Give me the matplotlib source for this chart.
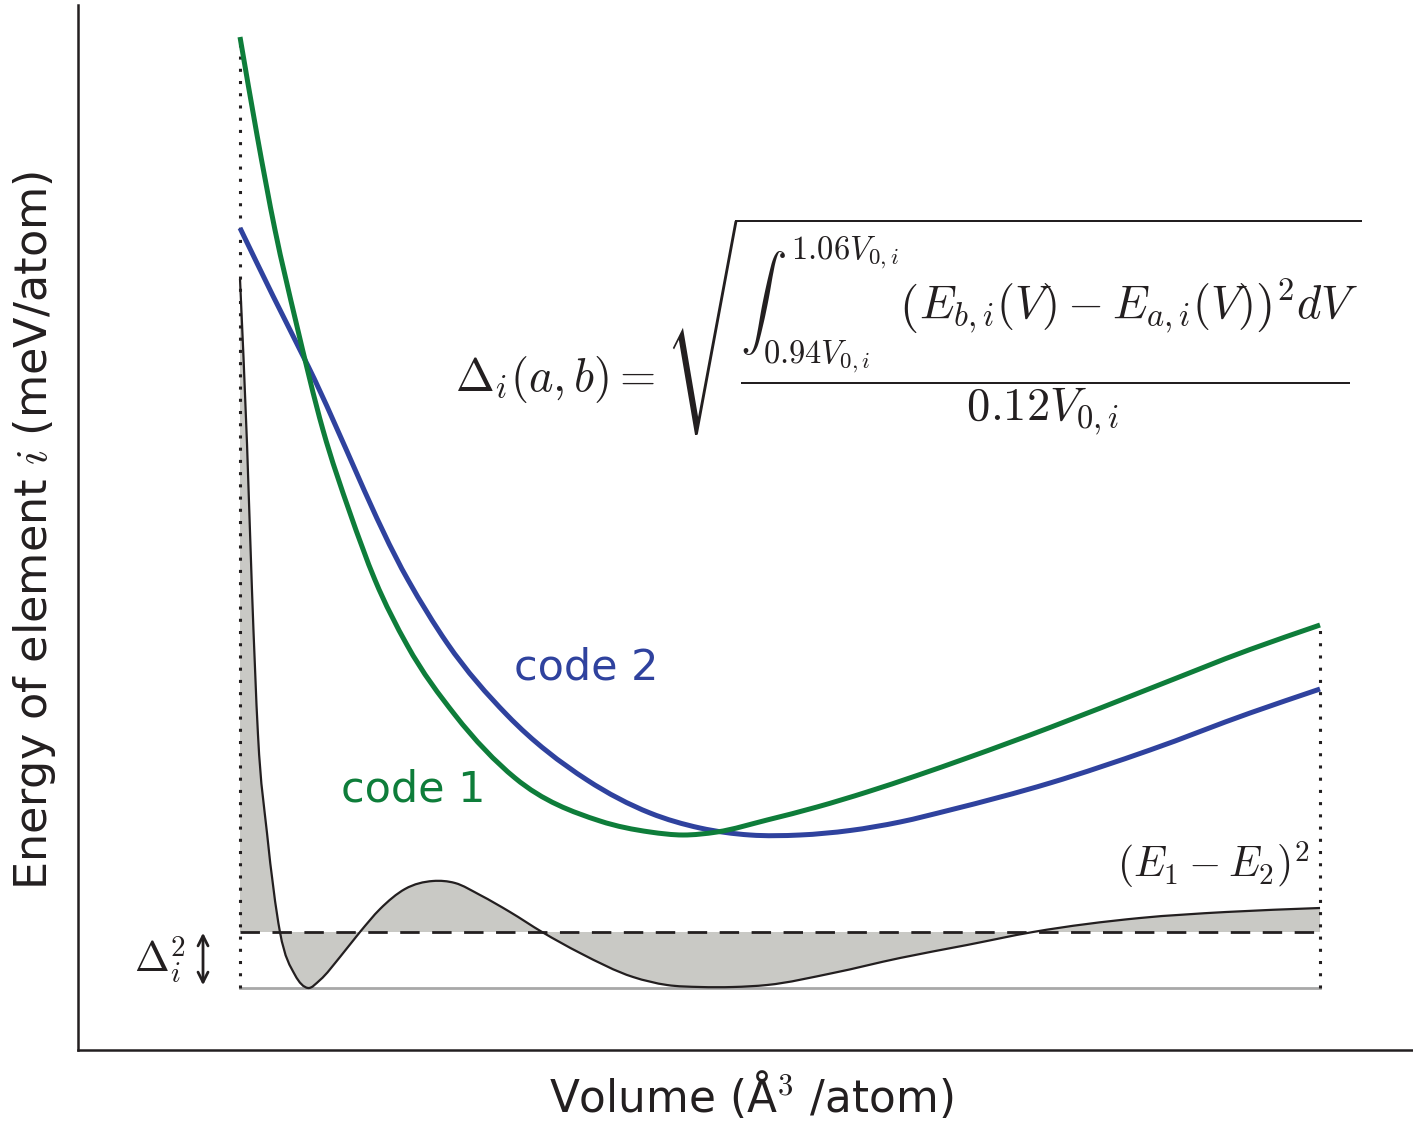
import numpy as np
import matplotlib
matplotlib.use("Agg")
import matplotlib.pyplot as plt
from matplotlib.path import Path
from matplotlib.patches import PathPatch

plt.rcParams['mathtext.fontset'] = 'cm'
plt.rcParams['font.family'] = ['DejaVu Sans']

# volume in % of V0, energy in arbitrary meV/atom (schematic)
v_code1 = [94.0, 94.189, 94.389, 94.622, 94.922, 95.222, 95.5, 95.856, 96.389,
           97.056, 98.0, 98.556, 98.922, 99.3, 99.856, 100.411, 100.967, 101.522,
           102.078, 103.0, 104.111, 105.222, 106.0]
e_code1 = [101.3, 91.5, 82.0, 72.8, 62.0, 53.7, 47.0, 40.5, 33.5,
           27.2, 22.9, 21.8, 21.5, 21.8, 23.0, 24.3, 25.8, 27.45,
           29.2, 32.25, 36.15, 40.05, 42.5]

v_code2 = [94.0, 94.367, 94.756, 95.867, 96.3, 96.967, 97.856, 98.556, 99.111,
           99.667, 100.222, 100.778, 101.333, 101.889, 103.0, 104.111, 105.222,
           106.0]
e_code2 = [82.2, 75.4, 68.4, 47.0, 40.7, 33.5, 27.0, 23.7, 22.2,
           21.5, 21.5, 21.95, 22.8, 24.0, 26.7, 30.0, 33.7,
           36.1]

# (E1 - E2)^2, schematic
v_diff = [94.0, 94.078, 94.133, 94.2, 94.3, 94.444, 94.611, 94.756, 94.889,
          95.111, 95.333, 95.556, 95.833, 96.144, 96.389, 96.667, 97.0, 97.356,
          97.778, 98.367, 98.744, 99.111, 99.478, 99.856, 100.589, 101.333,
          102.078, 102.811, 104.0, 104.956, 106.0]
e_diff = [77.1, 60.6, 46.0, 31.5, 21.7, 11.8, 7.5, 6.2, 7.0,
          9.3, 11.8, 14.1, 16.1, 16.9, 16.7, 15.5, 13.8, 11.8,
          9.7, 7.3, 6.5, 6.3, 6.3, 6.5, 7.7, 9.2,
          10.5, 11.8, 13.2, 13.8, 14.2]

v_lo, v_hi = 94.0, 106.0
e_base = 6.2     # zero of the (E1-E2)^2 curve
e_delta = 11.8   # mean value -> Delta_i^2

green = '#0e7d3a'
blue = '#2f429e'
dark = '#231f20'


def smooth_path(x, y):
    # cubic hermite through the read points, drawn as bezier segments
    x = np.asarray(x, float)
    y = np.asarray(y, float)
    h = np.diff(x)
    d = np.diff(y) / h
    m = np.empty_like(y)
    m[0], m[-1] = d[0], d[-1]
    m[1:-1] = (d[:-1] * h[1:] + d[1:] * h[:-1]) / (h[:-1] + h[1:])
    verts = [(x[0], y[0])]
    codes = [Path.MOVETO]
    for i in range(len(x) - 1):
        verts += [(x[i] + h[i] / 3, y[i] + m[i] * h[i] / 3),
                  (x[i + 1] - h[i] / 3, y[i + 1] - m[i + 1] * h[i] / 3),
                  (x[i + 1], y[i + 1])]
        codes += [Path.CURVE4] * 3
    return verts, codes


fig = plt.figure(figsize=(14.13, 11.21), dpi=100)
ax = fig.add_axes([78 / 1413, 71 / 1121, 1335 / 1413, 1045 / 1121])
ax.set_xlim(92.2, 107.033)
ax.set_ylim(0, 104.5)

for s in ['top', 'right']:
    ax.spines[s].set_visible(False)
for s in ['left', 'bottom']:
    ax.spines[s].set_linewidth(1.8)
    ax.spines[s].set_color(dark)
ax.set_xticks([])
ax.set_yticks([])

# shaded difference between (E1-E2)^2 and its mean
dv, dc = smooth_path(v_diff, e_diff)
fill_verts = [(v_diff[0], e_delta)] + dv + \
             [(v_diff[-1], e_delta), (v_diff[0], e_delta)]
fill_codes = [Path.MOVETO, Path.LINETO] + dc[1:] + [Path.LINETO, Path.CLOSEPOLY]
ax.add_patch(PathPatch(Path(fill_verts, fill_codes), facecolor='#c9c9c5',
                       edgecolor='none', zorder=1))
ax.plot([v_lo, v_hi], [e_base, e_base], color='#a8a8a8', lw=2, zorder=2)
ax.plot([v_lo, v_hi], [e_delta, e_delta], color=dark, lw=2,
        ls=(0, (7, 4.5)), zorder=3)
ax.add_patch(PathPatch(Path(dv, dc), facecolor='none', edgecolor=dark,
                       lw=1.6, zorder=4))

# integration bounds
ax.plot([v_lo, v_lo], [e_base, e_code1[0]], color=dark, lw=2.2,
        ls=(0, (1, 3)), zorder=5)
ax.plot([v_hi, v_hi], [e_base, e_code1[-1]], color=dark, lw=2.2,
        ls=(0, (1, 3)), zorder=5)

for vv, ee, col, z in [(v_code2, e_code2, blue, 6), (v_code1, e_code1, green, 7)]:
    verts, codes = smooth_path(vv, ee)
    ax.add_patch(PathPatch(Path(verts, codes), facecolor='none', edgecolor=col,
                           lw=3.6, capstyle='butt', zorder=z))

ax.text(97.844, 38.3, 'code 2', color=blue, fontsize=31, ha='center', va='center')
ax.text(95.922, 26.0, 'code 1', color=green, fontsize=31, ha='center', va='center')

formula = (r'$\Delta_i(a,b) = \sqrt{\dfrac{\int_{0.94V_{0,i}}^{1.06V_{0,i}}'
           r'\left(E_{b,i}(V)-E_{a,i}(V)\right)^2 dV}{0.12V_{0,i}}}$')
ax.text(96.389, 72.3, formula, fontsize=33.5, ha='left', va='center', color=dark)

ax.text(104.811, 18.5, r'$(E_1-E_2)^2$', fontsize=30, ha='center', va='center',
        color=dark)
ax.text(93.111, 9.0, r'$\Delta_i^2$', fontsize=30, ha='center', va='center',
        color=dark)
ax.annotate('', xy=(93.589, e_base), xytext=(93.589, e_delta + 0.2),
            arrowprops=dict(arrowstyle='<->', color=dark, lw=2,
                            mutation_scale=18))

fig.text(751 / 1413, 1 - 1112 / 1121, r'Volume (Å$^3$ /atom)', fontsize=31.5,
         ha='center', va='baseline', color=dark)
fig.text(35 / 1413, 1 - 530 / 1121, r'Energy of element $i$ (meV/atom)',
         fontsize=32, ha='center', va='center', rotation=90, color=dark)

fig.savefig('out.png', dpi=100)
